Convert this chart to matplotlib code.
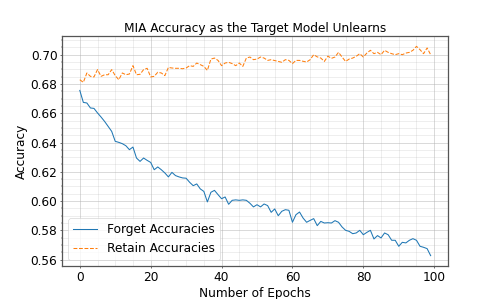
import matplotlib
matplotlib.use("Agg")
import matplotlib.pyplot as plt
from matplotlib.ticker import AutoMinorLocator

# values (epochs 0..99)
epochs = list(range(100))

forget_acc = [
    0.6756, 0.6674, 0.6670, 0.6636, 0.6633, 0.6602, 0.6574, 0.6544, 0.6510, 0.6476,
    0.6408, 0.6401, 0.6392, 0.6378, 0.6351, 0.6369, 0.6294, 0.6271, 0.6294, 0.6278,
    0.6264, 0.6214, 0.6233, 0.6214, 0.6192, 0.6165, 0.6196, 0.6174, 0.6165, 0.6158,
    0.6156, 0.6128, 0.6105, 0.6117, 0.6083, 0.6066, 0.5994, 0.6060, 0.6073, 0.6044,
    0.6016, 0.6028, 0.5978, 0.6005, 0.6008, 0.6005, 0.6008, 0.6005, 0.5985, 0.5960,
    0.5975, 0.5960, 0.5980, 0.5969, 0.5923, 0.5946, 0.5900, 0.5930, 0.5941, 0.5937,
    0.5855, 0.5907, 0.5925, 0.5884, 0.5855, 0.5868, 0.5880, 0.5832, 0.5861, 0.5850,
    0.5852, 0.5850, 0.5866, 0.5855, 0.5823, 0.5800, 0.5793, 0.5777, 0.5782, 0.5800,
    0.5770, 0.5786, 0.5800, 0.5741, 0.5764, 0.5748, 0.5782, 0.5770, 0.5732, 0.5732,
    0.5691, 0.5718, 0.5714, 0.5732, 0.5743, 0.5732, 0.5691, 0.5684, 0.5675, 0.5627,
]

retain_acc = [
    0.6829, 0.6811, 0.6875, 0.6852, 0.6848, 0.6898, 0.6852, 0.6863, 0.6863, 0.6898,
    0.6857, 0.6829, 0.6875, 0.6863, 0.6868, 0.6925, 0.6863, 0.6866, 0.6898, 0.6907,
    0.6848, 0.6852, 0.6880, 0.6875, 0.6857, 0.6913, 0.6909, 0.6907, 0.6907, 0.6904,
    0.6909, 0.6925, 0.6920, 0.6943, 0.6932, 0.6920, 0.6893, 0.6970, 0.6977, 0.6961,
    0.6925, 0.6943, 0.6948, 0.6939, 0.6925, 0.6943, 0.6920, 0.6977, 0.6984, 0.6966,
    0.6970, 0.6984, 0.6977, 0.6961, 0.6966, 0.6960, 0.6954, 0.6948, 0.6966, 0.6961,
    0.6939, 0.6961, 0.6961, 0.6955, 0.6950, 0.6966, 0.7000, 0.6985, 0.6977, 0.6954,
    0.6990, 0.6975, 0.6984, 0.7016, 0.6984, 0.6954, 0.6970, 0.6977, 0.6989, 0.7007,
    0.6984, 0.7011, 0.7030, 0.7007, 0.7016, 0.7000, 0.7030, 0.7016, 0.7007, 0.7000,
    0.7007, 0.7000, 0.7011, 0.7016, 0.7030, 0.7057, 0.7034, 0.7007, 0.7046, 0.7000,
]

# the original looks like a 10x6 in figure shrunk to half size, so
# all point-based sizes are scaled by about 0.5
s = 0.498
fs = 8.7
fig, ax = plt.subplots(figsize=(4.98, 2.99), dpi=100)

ax.plot(epochs, forget_acc, color='#1f77b4', linewidth=1.5 * s, label='Forget Accuracies')
ax.plot(epochs, retain_acc, color='#ff7f0e', linewidth=1.5 * s, linestyle='--',
        label='Retain Accuracies')

ax.set_title('MIA Accuracy as the Target Model Unlearns', fontsize=fs, pad=6 * s)
ax.set_xlabel('Number of Epochs', fontsize=fs, labelpad=4 * s)
ax.set_ylabel('Accuracy', fontsize=fs, labelpad=4 * s)

ax.set_xticks([0, 20, 40, 60, 80, 100])
ax.set_yticks([0.56, 0.58, 0.60, 0.62, 0.64, 0.66, 0.68, 0.70])
ax.xaxis.set_minor_locator(AutoMinorLocator(4))
ax.yaxis.set_minor_locator(AutoMinorLocator(4))
ax.tick_params(labelsize=fs, length=3.5 * s, width=0.8 * s, pad=3.5 * s)
ax.tick_params(which='minor', length=2 * s, width=0.6 * s)

ax.grid(which='major', color='#b0b0b0', alpha=0.55, linewidth=0.6)
ax.grid(which='minor', color='#b0b0b0', alpha=0.3, linewidth=0.5)

for sp in ax.spines.values():
    sp.set_linewidth(0.9)
    sp.set_color('#555555')

leg = ax.legend(loc='lower left', fontsize=fs)
leg.get_frame().set_linewidth(0.5)

plt.savefig('out.png', dpi=100)
